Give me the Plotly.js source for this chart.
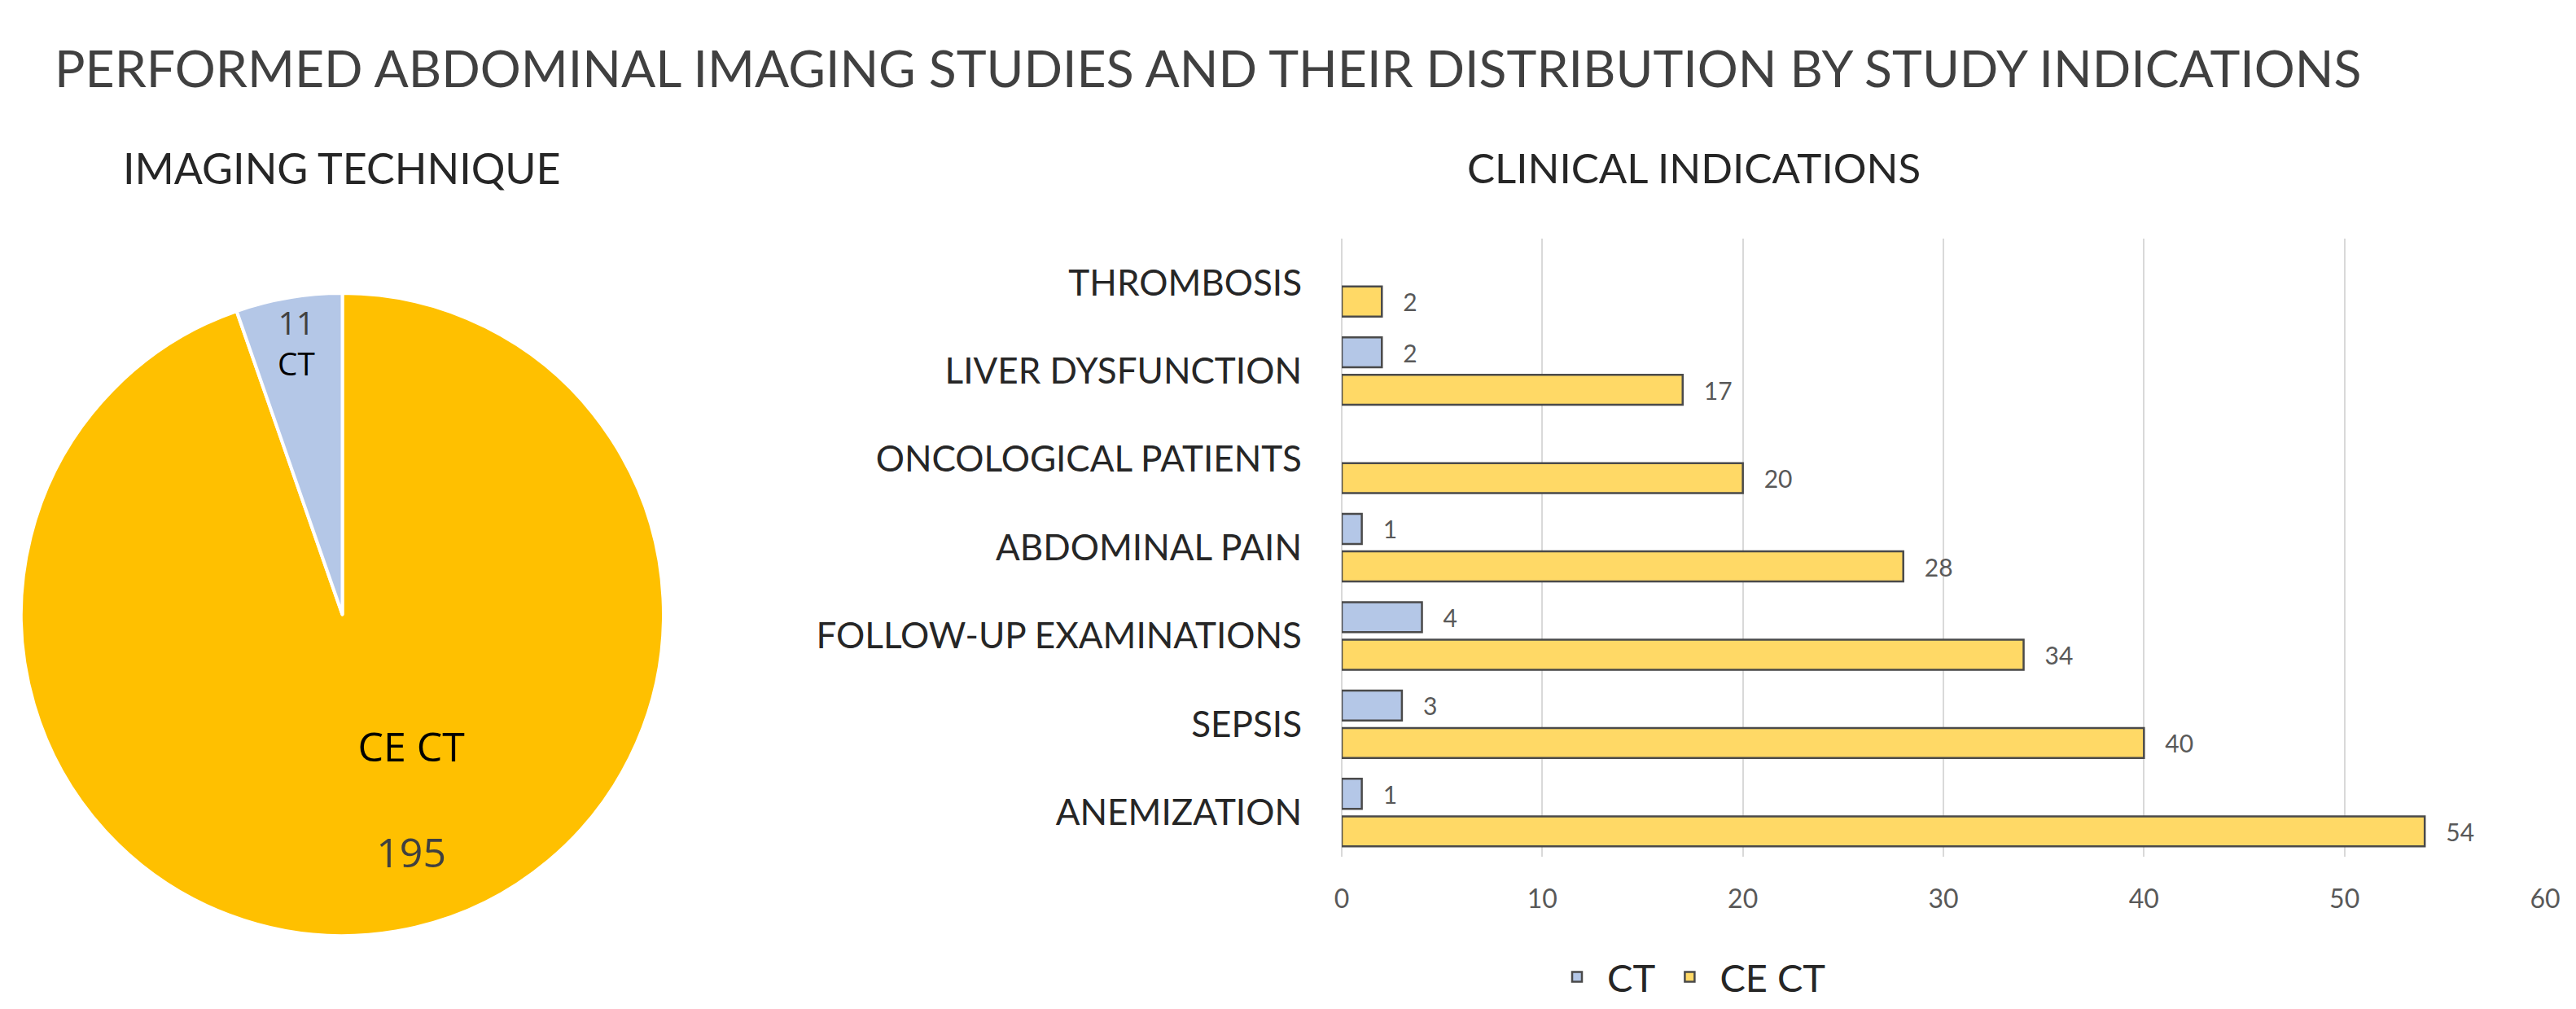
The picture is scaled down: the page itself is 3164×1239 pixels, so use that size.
<!DOCTYPE html>
<html>
<head>
<meta charset="utf-8">
<script src="https://cdn.plot.ly/plotly-3.0.1.min.js"></script>
<style>
  html, body { margin: 0; padding: 0; background: #ffffff; }
  #chart { width: 3164px; height: 1239px; }
</style>
</head>
<body>
<div id="chart"></div>
<script>
// ---- data ----
const pieLabels = ['CE CT', 'CT'];
const pieValues = [195, 11];

const categories = ['ANEMIZATION', 'SEPSIS', 'FOLLOW-UP EXAMINATIONS', 'ABDOMINAL PAIN',
                    'ONCOLOGICAL PATIENTS', 'LIVER DYSFUNCTION', 'THROMBOSIS'];
const ctValues   = [1, 3, 4, 1, null, 2, null];
const ceCtValues = [54, 40, 34, 28, 20, 17, 2];
const xTickVals  = [0, 10, 20, 30, 40, 50, 60];

const mainTitle = 'PERFORMED ABDOMINAL IMAGING STUDIES AND THEIR DISTRIBUTION BY STUDY INDICATIONS';
const pieTitle = 'IMAGING TECHNIQUE';
const barTitle = 'CLINICAL INDICATIONS';

// ---- styles ----
const FONT = 'Lato, "Open Sans", sans-serif';
const COLOR_CT = '#B4C7E7';
const COLOR_CE_PIE = '#FFC000';
const COLOR_CE_BAR = '#FFD966';
const NBSP = '\u00a0';
const pad = (n) => NBSP.repeat(n);

const pieTrace = {
  type: 'pie',
  labels: pieLabels,
  values: pieValues,
  sort: false,
  direction: 'clockwise',
  rotation: 0,
  marker: { colors: [COLOR_CE_PIE, COLOR_CT], line: { color: '#ffffff', width: 4 } },
  textposition: 'inside',
  insidetextorientation: 'horizontal',
  texttemplate: [
    " <br>" + pad(8) + "%{label}<br> <br>" + pad(8) + "<span style='color:#404040'>%{value}</span>",
    "<span style='color:#404040'>%{value}</span><br>%{label}"
  ],
  textfont: { family: '"Open Sans", sans-serif', size: 50, color: '#000000' },
  domain: { x: [26 / 3164, 815 / 3164], y: [1 - 1150 / 1239, 1 - 359 / 1239] },
  showlegend: false,
  hoverinfo: 'skip'
};

const ceTrace = {
  type: 'bar',
  orientation: 'h',
  name: 'CE CT',
  y: categories,
  x: ceCtValues,
  xaxis: 'x', yaxis: 'y',
  marker: { color: COLOR_CE_BAR, line: { color: '#4a4a4a', width: 2.5 } },
  texttemplate: pad(3) + '%{x}',
  textposition: 'outside',
  constraintext: 'none',
  cliponaxis: false,
  textfont: { family: FONT, size: 30, color: '#595959' },
  legendrank: 2,
  hoverinfo: 'skip'
};

const ctTrace = {
  type: 'bar',
  orientation: 'h',
  name: 'CT',
  y: categories,
  x: ctValues,
  xaxis: 'x', yaxis: 'y',
  marker: { color: COLOR_CT, line: { color: '#4a4a4a', width: 2.5 } },
  texttemplate: pad(3) + '%{x}',
  textposition: 'outside',
  constraintext: 'none',
  cliponaxis: false,
  textfont: { family: FONT, size: 30, color: '#595959' },
  legendrank: 1,
  hoverinfo: 'skip'
};

const layout = {
  width: 3164,
  height: 1239,
  margin: { l: 0, r: 0, t: 0, b: 0, pad: 0 },
  paper_bgcolor: '#ffffff',
  plot_bgcolor: '#ffffff',
  font: { family: FONT, color: '#262626' },
  title: {
    text: mainTitle,
    x: 67 / 3164, xanchor: 'left', xref: 'paper',
    y: 1 - 85 / 1239, yanchor: 'middle', yref: 'paper',
    font: { family: FONT, size: 62.5, color: '#404040' }
  },
  barmode: 'group',
  bargap: 0.15,
  bargroupgap: 0.2,
  xaxis: {
    domain: [1648 / 3164, 3126 / 3164],
    range: [0, 60],
    tickvals: xTickVals,
    showgrid: true,
    gridcolor: '#d9d9d9',
    gridwidth: 2,
    zeroline: true,
    zerolinecolor: '#d9d9d9',
    zerolinewidth: 2,
    showline: false,
    ticks: '',
    ticklabelstandoff: 30,
    tickfont: { family: FONT, size: 32, color: '#595959' },
    fixedrange: true
  },
  yaxis: {
    domain: [1 - 1052 / 1239, 1 - 293 / 1239],
    type: 'category',
    categoryorder: 'array',
    categoryarray: categories,
    showgrid: false,
    zeroline: false,
    showline: false,
    ticks: '',
    ticklabelstandoff: 48,
    tickfont: { family: FONT, size: 44, color: '#262626' },
    fixedrange: true
  },
  legend: {
    orientation: 'h',
    x: 1900 / 3164, xanchor: 'left',
    y: 1 - 1200 / 1239, yanchor: 'middle',
    font: { family: FONT, size: 47, color: '#262626' },
    itemwidth: 64,
    bgcolor: 'rgba(0,0,0,0)'
  },
  annotations: [
    {
      text: pieTitle, xref: 'paper', yref: 'paper',
      x: 420 / 3164, y: 1 - 206 / 1239, xanchor: 'center', yanchor: 'middle',
      showarrow: false, font: { family: FONT, size: 52, color: '#262626' }
    },
    {
      text: barTitle, xref: 'paper', yref: 'paper',
      x: 2080 / 3164, y: 1 - 206 / 1239, xanchor: 'center', yanchor: 'middle',
      showarrow: false, font: { family: FONT, size: 51, color: '#262626' }
    }
  ],
  showlegend: true,
  hovermode: false
};

Plotly.newPlot('chart', [pieTrace, ceTrace, ctTrace], layout, { staticPlot: true, displayModeBar: false });
</script>
</body>
</html>
